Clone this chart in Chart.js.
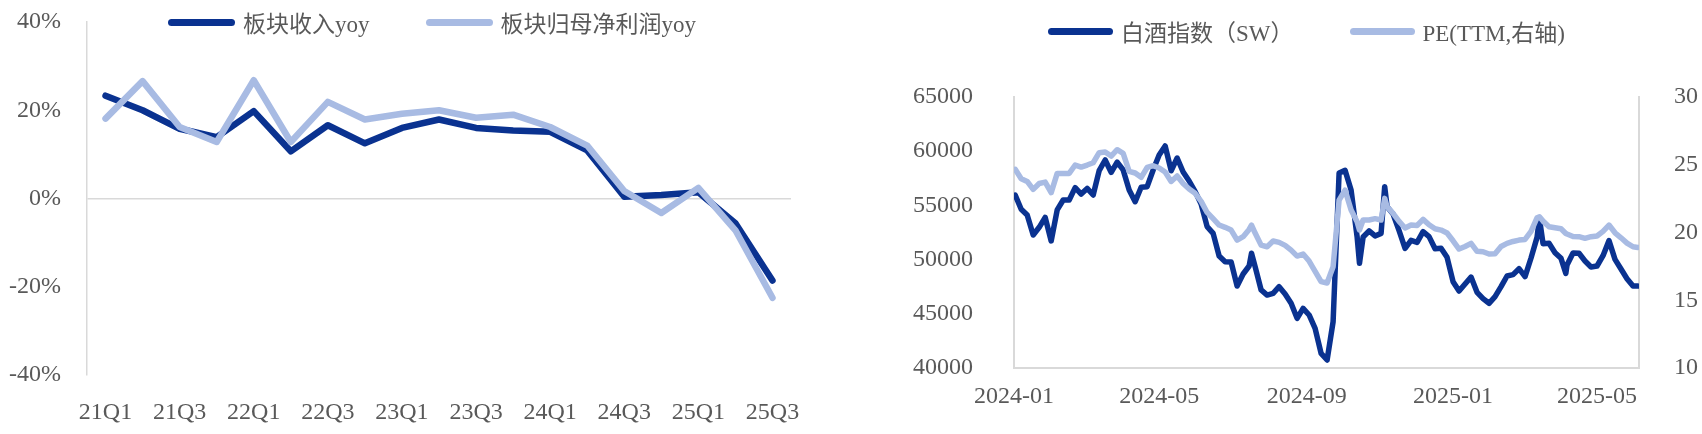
<!DOCTYPE html>
<html>
<head>
<meta charset="utf-8">
<script src="https://cdn.jsdelivr.net/npm/chart.js@4.4.1/dist/chart.umd.min.js"></script>
<style>
  html, body { margin: 0; padding: 0; background: #fff; }
  body { width: 1702px; height: 434px; position: relative; overflow: hidden; }
  .box { position: absolute; top: 0; }
  .legend { position: absolute; display: flex; align-items: center; gap: 56px; transform: translateY(-50%);
            font-family: "Liberation Serif", "Noto Sans CJK SC", serif; font-size: 23px; color: #595959; white-space: nowrap; }
  .legend .item { display: flex; align-items: center; }
  .legend .swatch { display: inline-block; height: 7px; border-radius: 4px; margin-right: 8px; }
</style>
</head>
<body>
<div class="box" style="left:0;width:860px;height:434px"><canvas id="cL" width="860" height="434"></canvas></div>
<div class="box" style="left:860px;width:842px;height:434px"><canvas id="cR" width="842" height="434"></canvas></div>
<div class="legend" id="legL" style="left:168px;top:22px"></div>
<div class="legend" id="legR" style="left:1048px;top:31px"></div>
<script>
// left chart: quarterly yoy (%)
const quarters = ['21Q1','21Q2','21Q3','21Q4','22Q1','22Q2','22Q3','22Q4','23Q1','23Q2','23Q3','23Q4','24Q1','24Q2','24Q3','24Q4','25Q1','25Q2','25Q3'];
const revenueYoy = [23.3,20.0,15.8,13.9,19.8,10.7,16.6,12.5,16.0,17.9,16.0,15.4,15.1,10.9,0.4,0.8,1.4,-5.6,-18.6];
const profitYoy  = [18.1,26.6,16.2,12.8,26.8,12.8,21.9,17.9,19.2,20.0,18.3,19.0,16.2,12.0,1.7,-3.3,2.4,-7.2,-22.5];

// right chart: baijiu index (SW) and PE(TTM)
const dates = ['2024-01-02','2024-01-07','2024-01-12','2024-01-17','2024-01-22','2024-01-27','2024-02-01','2024-02-06','2024-02-11','2024-02-16',
  '2024-02-21','2024-02-26','2024-03-02','2024-03-07','2024-03-12','2024-03-17','2024-03-22','2024-03-27','2024-04-01','2024-04-06',
  '2024-04-11','2024-04-16','2024-04-21','2024-04-26','2024-05-01','2024-05-06','2024-05-11','2024-05-16','2024-05-21','2024-05-26',
  '2024-05-31','2024-06-05','2024-06-10','2024-06-15','2024-06-20','2024-06-25','2024-06-30','2024-07-05','2024-07-10','2024-07-15',
  '2024-07-17','2024-07-20','2024-07-25','2024-07-30','2024-08-04','2024-08-09','2024-08-14','2024-08-19','2024-08-24','2024-08-29',
  '2024-09-03','2024-09-08','2024-09-13','2024-09-18','2024-09-23','2024-09-28','2024-10-03','2024-10-08','2024-10-13','2024-10-15',
  '2024-10-18','2024-10-23','2024-10-28','2024-11-02','2024-11-05','2024-11-07','2024-11-12','2024-11-17','2024-11-22','2024-11-27',
  '2024-12-02','2024-12-07','2024-12-12','2024-12-17','2024-12-22','2024-12-27','2025-01-01','2025-01-06','2025-01-11','2025-01-16',
  '2025-01-21','2025-01-26','2025-01-31','2025-02-05','2025-02-10','2025-02-15','2025-02-20','2025-02-25','2025-03-02','2025-03-07',
  '2025-03-12','2025-03-14','2025-03-17','2025-03-22','2025-03-27','2025-04-01','2025-04-05','2025-04-06','2025-04-11','2025-04-16',
  '2025-04-21','2025-04-26','2025-05-01','2025-05-06','2025-05-11','2025-05-16','2025-05-21','2025-05-26','2025-05-31','2025-06-04'];
const indexSW = [55960,54640,54110,52270,52980,53900,51720,54580,55500,55500,
  56640,56050,56570,55960,58200,59190,58050,59000,58270,56420,
  55340,56670,56730,58270,59650,60480,58200,59370,58080,57250,
  56270,55130,53040,52420,50330,49810,49780,47560,48670,49410,
  50580,49350,47200,46730,46890,47500,46830,45970,44580,45500,
  44890,43660,41350,40740,44270,57990,58230,56420,52120,49660,
  52080,52640,52180,52420,56730,54880,54210,52670,51040,51780,
  51590,52580,52120,51010,51040,50210,47960,47100,47750,48390,
  46980,46400,45970,46580,47500,48490,48610,49160,48430,50150,
  52050,53810,51470,51500,50640,50120,48730,49500,50610,50580,
  49870,49320,49410,50360,51750,50020,49130,48240,47560,47560];
const peTTM = [24.66,23.97,23.77,23.18,23.62,23.72,22.94,24.36,24.36,24.36,
  24.98,24.83,24.98,25.15,25.89,25.94,25.64,26.11,25.84,24.51,
  24.39,24.07,24.80,24.93,24.76,24.46,23.77,24.17,23.62,23.21,
  22.89,22.30,21.48,21.02,20.55,20.38,20.18,19.44,19.69,20.23,
  20.55,19.96,19.07,18.95,19.37,19.27,19.05,18.70,18.26,18.41,
  17.89,17.13,16.37,16.27,17.47,22.39,23.13,21.66,20.80,20.18,
  20.92,20.92,21.02,20.92,22.52,21.90,21.41,20.82,20.33,20.55,
  20.52,20.97,20.57,20.28,20.18,19.96,19.39,18.78,18.97,19.20,
  18.61,18.58,18.41,18.43,18.97,19.20,19.34,19.44,19.49,20.08,
  21.09,21.16,20.84,20.43,20.35,20.28,19.93,19.89,19.71,19.69,
  19.57,19.69,19.74,20.08,20.55,19.98,19.61,19.22,18.95,18.90];
const dateTicks = ['2024-01','2024-05','2024-09','2025-01','2025-05'];

const DARK = '#0a3290';
const LIGHT = '#a8bbe3';
const TXT = '#595959';
const AXIS = '#d9d9d9';
const NONE = 'rgba(0,0,0,0)';
const serif = '"Liberation Serif", "Noto Sans CJK SC", serif';

function dayOf(s) {
  const p = s.split('-').map(Number);
  return (Date.UTC(p[0], p[1] - 1, p[2] || 1) - Date.UTC(2024, 0, 1)) / 864e5;
}

function htmlLegend(boxId, swatchW) {
  return {
    id: 'htmlLegend',
    afterUpdate(chart) {
      const box = document.getElementById(boxId);
      box.innerHTML = '';
      chart.data.datasets.forEach(ds => {
        const item = document.createElement('div');
        item.className = 'item';
        const sw = document.createElement('span');
        sw.className = 'swatch';
        sw.style.background = ds.borderColor;
        sw.style.width = swatchW + 'px';
        const tx = document.createElement('span');
        tx.textContent = ds.label;
        item.appendChild(sw);
        item.appendChild(tx);
        box.appendChild(item);
      });
    }
  };
}

Chart.defaults.font.family = serif;
Chart.defaults.color = TXT;

new Chart(document.getElementById('cL'), {
  type: 'line',
  data: {
    labels: quarters,
    datasets: [
      { label: '板块收入yoy', data: revenueYoy, borderColor: DARK, backgroundColor: DARK, borderWidth: 6.5, order: 2 },
      { label: '板块归母净利润yoy', data: profitYoy, borderColor: LIGHT, backgroundColor: LIGHT, borderWidth: 6.5, order: 1 }
    ]
  },
  options: {
    responsive: false,
    animation: false,
    elements: {
      point: { radius: 0 },
      line: { tension: 0, borderCapStyle: 'round', borderJoinStyle: 'round' }
    },
    layout: { padding: { top: 22, right: 69, left: 0, bottom: 0 } },
    plugins: { legend: { display: false }, tooltip: { enabled: false } },
    scales: {
      x: {
        offset: true,
        grid: { display: false },
        border: { display: false },
        afterFit: s => { s.height = 59; },
        ticks: {
          autoSkip: false, maxRotation: 0, padding: 15,
          font: { size: 24 },
          callback: function (v, i) { return i % 2 === 0 ? this.getLabelForValue(v) : ''; }
        }
      },
      y: {
        min: -40, max: 40,
        afterFit: s => { s.width = 87; },
        border: { display: true, color: AXIS, width: 1.5 },
        // invisible tick marks give the label gap without pushing the plot top down
        grid: { drawTicks: true, tickLength: 26, tickColor: NONE, lineWidth: 1.5,
                color: c => c.tick.value === 0 ? AXIS : NONE },
        ticks: { stepSize: 20, padding: 0, font: { size: 24 }, callback: v => v + '%' }
      }
    }
  },
  plugins: [htmlLegend('legL', 67)]
});

new Chart(document.getElementById('cR'), {
  type: 'line',
  data: {
    datasets: [
      { label: '白酒指数（SW）', data: dates.map((d, i) => ({ x: dayOf(d), y: indexSW[i] })),
        borderColor: DARK, backgroundColor: DARK, borderWidth: 5.5, yAxisID: 'y', order: 2 },
      { label: 'PE(TTM,右轴)', data: dates.map((d, i) => ({ x: dayOf(d), y: peTTM[i] })),
        borderColor: LIGHT, backgroundColor: LIGHT, borderWidth: 5.5, yAxisID: 'y1', order: 1 }
    ]
  },
  options: {
    responsive: false,
    animation: false,
    elements: {
      point: { radius: 0 },
      line: { tension: 0, borderCapStyle: 'round', borderJoinStyle: 'round' }
    },
    layout: { padding: { top: 97, right: 0, left: 0, bottom: 0 } },
    plugins: { legend: { display: false }, tooltip: { enabled: false } },
    scales: {
      x: {
        type: 'linear',
        min: 0, max: 521,
        afterFit: s => { s.height = 66; },
        afterBuildTicks: s => { s.ticks = dateTicks.map(t => ({ value: dayOf(t) })); },
        grid: { display: false },
        border: { display: true, color: AXIS, width: 2 },
        ticks: { autoSkip: false, maxRotation: 0, padding: 6, font: { size: 24 },
                 callback: (v, i) => dateTicks[i] }
      },
      y: {
        position: 'left',
        min: 40000, max: 65000,
        afterFit: s => { s.width = 154; },
        grid: { display: false },
        border: { display: true, color: AXIS, width: 2 },
        ticks: { stepSize: 5000, padding: 33, font: { size: 24 }, callback: v => String(v) }
      },
      y1: {
        position: 'right',
        min: 10, max: 30,
        afterFit: s => { s.width = 63; },
        grid: { display: false },
        border: { display: true, color: AXIS, width: 2 },
        ticks: { stepSize: 5, padding: 27, font: { size: 24 } }
      }
    }
  },
  plugins: [htmlLegend('legR', 65)]
});
</script>
</body>
</html>
